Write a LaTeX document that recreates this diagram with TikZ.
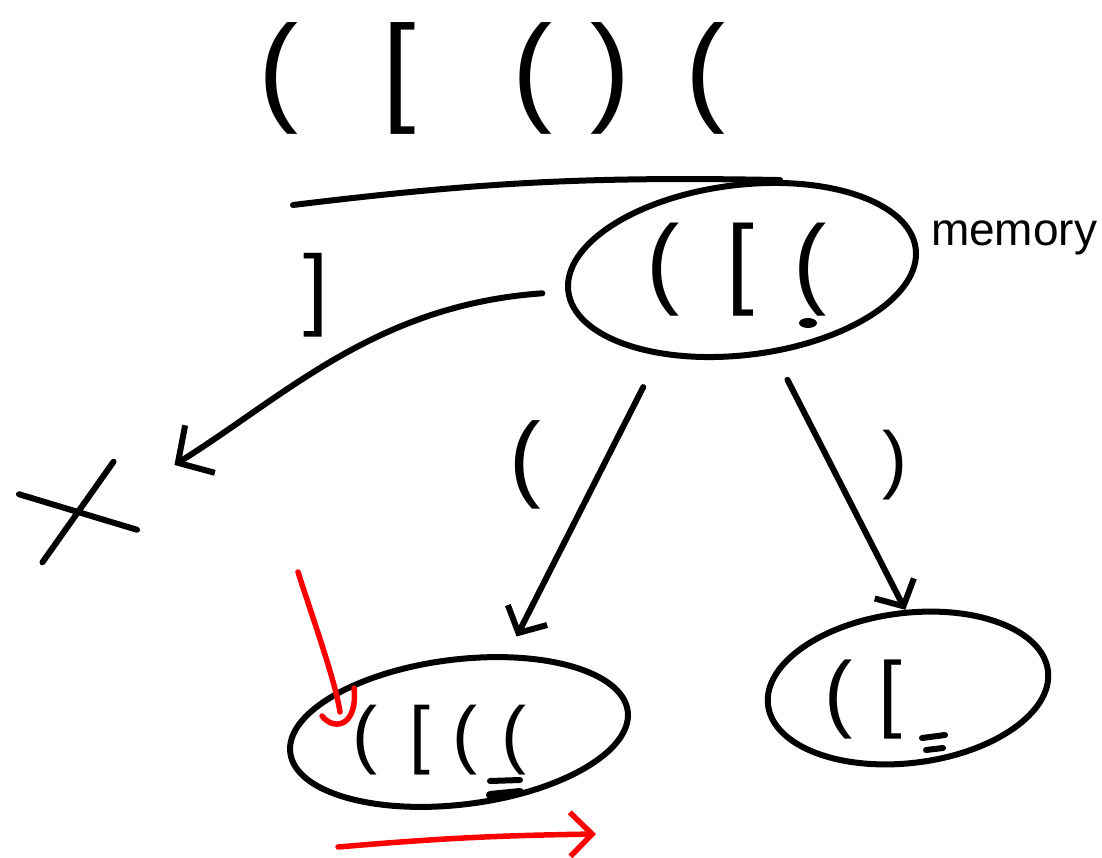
\documentclass[tikz,border=0pt]{standalone}
\usepackage{fontspec}
\setmainfont{Liberation Sans}
\usetikzlibrary{shapes.geometric,shapes.misc,arrows.meta}
\begin{document}
\begin{tikzpicture}[x=1pt,y=-1pt,line width=6pt,line cap=round,line join=round,
  stack/.style={draw,ellipse,inner sep=0pt,rotate=7},
  glyphs/.style={inner sep=0pt,anchor=west},
  lbl/.style={inner sep=0pt},
  arr/.style={-{Straight Barb[length=20pt,width=44pt]}},
  bigarr/.style={-{Straight Barb[length=26pt,width=56pt]}},
  redink/.style={draw=red,line width=5.5pt}]
\useasboundingbox (0,0) rectangle (1102,858);
% input sequence
\node[glyphs] (seq) at (255,78) {\fontsize{120}{120}\selectfont (\hspace{85pt}[\hspace{96pt}(\hspace{38pt})\hspace{55pt}(};
% memory stack
\node[stack,minimum width=350pt,minimum height=170pt] (mem) at (742,270) {};
\node[glyphs] (memtxt) at (643,270) {\fontsize{100}{100}\selectfont (\hspace{47pt}[\hspace{39pt}(};
\fill (808,323) ellipse (9 and 5);
\node[lbl,anchor=base west] (memlbl) at (928,246) {\fontsize{46}{46}\selectfont memory};
% labels
\node[lbl] (l1) at (316,295) {\fontsize{90}{90}\selectfont ]};
\node[lbl] (l2) at (525,465) {\fontsize{95}{95}\selectfont (};
\node[lbl] (l3) at (895,465) {\fontsize{75}{75}\selectfont )};
% lower stacks
\node[stack,minimum width=340pt,minimum height=145pt] (bl) at (459,732) {};
\node[glyphs] (bltxt) at (349.5,740) {\fontsize{75}{75}\selectfont (\hspace{32pt}[\hspace{22pt}(\hspace{24pt}(};
\draw (490,781) -- (520,780);
\draw[line width=8pt] (490,795) -- (520,792);
\node[stack,minimum width=282pt,minimum height=150pt] (br) at (908,688) {};
\node[glyphs] (brtxt) at (821,700) {\fontsize{85}{85}\selectfont (\hspace{26pt}[};
\draw (922,738) -- (945,735);
\draw (926,750) -- (943,748);
% reject mark
\node[cross out,draw,minimum width=94pt,minimum height=66pt,rotate=19,inner sep=0pt] (rej) at (78,512) {};
% connectors
\coordinate (tl) at (293,205);
\draw (tl) to[bend left=4] (mem.60);
\draw[arr,shorten <=35pt,shorten >=20pt] (mem.219) -- (bl.51);
\draw[arr,shorten <=29pt] (mem.284) -- (br.85);
\draw[bigarr,shorten <=23pt,shorten >=58pt] (mem.180) to[out=184,in=32] (rej.east);
% red annotations
\coordinate (rs) at (298,572);
\coordinate (re) at (340,712);
\draw[redink] (rs) .. controls (315,625) and (335,680) .. (re);
\draw[redink] (322,716) .. controls (335,732) and (358,725) .. (354,688);
\coordinate (ps) at (338,847);
\coordinate (pe) at (596,834);
\draw[redink,-{Straight Barb[length=22pt,width=44pt]}] (ps) to[bend left=2] (pe);
\end{tikzpicture}
\end{document}
